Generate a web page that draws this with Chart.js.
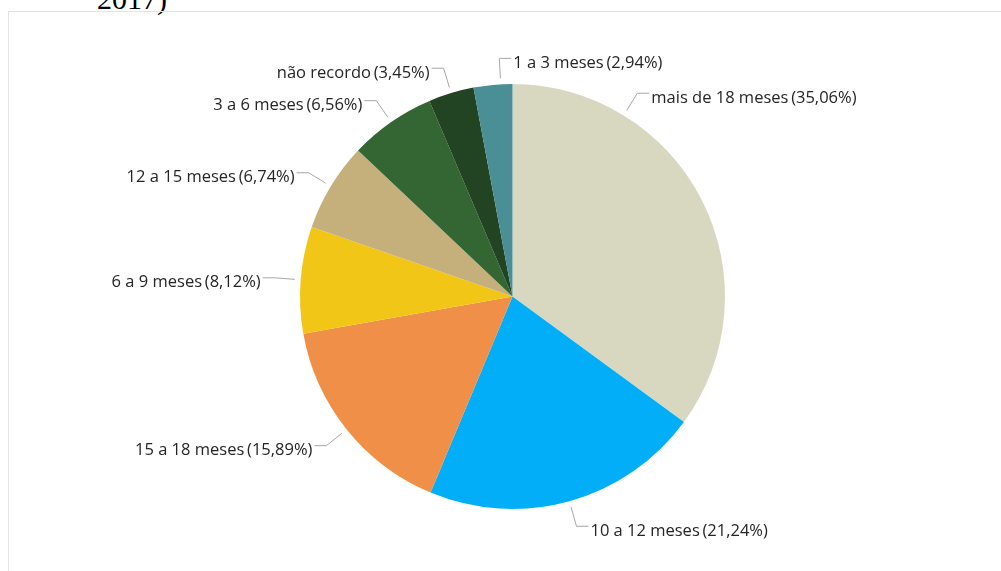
<!DOCTYPE html>
<html>
<head>
<meta charset="utf-8">
<script src="https://cdn.jsdelivr.net/npm/chart.js@4"></script>
<style>
  html, body { margin: 0; padding: 0; background: #fff; overflow: hidden; }
  #wrap { position: relative; width: 1001px; height: 571px; }
  #frame { position: absolute; left: 8px; top: 11px; right: 0; bottom: 0;
           border-top: 1px solid #e4e4e4; border-left: 1px solid #e4e4e4; }
  #caption { position: absolute; left: 97px; top: -16px; font-family: "Liberation Serif", serif;
             font-size: 30px; color: #000; line-height: 30px; }
  canvas { position: absolute; left: 0; top: 0; }
</style>
</head>
<body>
<div id="wrap">
  <div id="caption">2017)</div>
  <div id="frame"></div>
  <canvas id="pie" width="1001" height="571"></canvas>
</div>
<script>
// categories, clockwise from 12 o'clock
const categories = ['mais de 18 meses', '10 a 12 meses', '15 a 18 meses', '6 a 9 meses',
                    '12 a 15 meses', '3 a 6 meses', 'não recordo', '1 a 3 meses'];
const percents = [35.06, 21.24, 15.89, 8.12, 6.74, 6.56, 3.45, 2.94];
const colors = ['#d8d8c1', '#01aef7', '#f08f48', '#f1c617', '#c5af7b', '#336633', '#224423', '#4a8f95'];

// where along the slice the leader line starts, and which side the label goes
const labelFrac = [0.25, 0.5, 0.5, 0.5, 0.5, 0.5, 0.5, 0.7];
const labelSide = ['right', 'right', 'left', 'left', 'left', 'left', 'left', 'right'];

function fmt(v) {
  return v.toFixed(2).replace('.', ',');
}

const leaderLabels = {
  id: 'leaderLabels',
  afterDraw(chart) {
    const ctx = chart.ctx;
    const arcs = chart.getDatasetMeta(0).data;
    ctx.save();
    ctx.font = '16.5px "Open Sans", sans-serif';
    ctx.textBaseline = 'middle';
    arcs.forEach((arc, i) => {
      const a = arc.startAngle + (arc.endAngle - arc.startAngle) * labelFrac[i];
      const r = arc.outerRadius;
      const x0 = arc.x + Math.cos(a) * (r + 6);
      const y0 = arc.y + Math.sin(a) * (r + 6);
      const x1 = arc.x + Math.cos(a) * (r + 26);
      const y1 = arc.y + Math.sin(a) * (r + 26);
      const dir = labelSide[i] === 'right' ? 1 : -1;
      const x2 = x1 + dir * 12;
      ctx.strokeStyle = '#a6a6a6';
      ctx.lineWidth = 1;
      ctx.beginPath();
      ctx.moveTo(x0, y0);
      ctx.lineTo(x1, y1);
      ctx.lineTo(x2, y1);
      ctx.stroke();
      ctx.fillStyle = '#252423';
      ctx.textAlign = dir > 0 ? 'left' : 'right';
      ctx.fillText(categories[i] + '\u2009(' + fmt(percents[i]) + '%)', x2 + dir * 2, y1 + 5);
    });
    ctx.restore();
  }
};

new Chart(document.getElementById('pie'), {
  type: 'pie',
  data: {
    labels: categories,
    datasets: [{
      data: percents,
      backgroundColor: colors,
      borderWidth: 0,
      hoverOffset: 0,
      offset: 0
    }]
  },
  options: {
    responsive: false,
    animation: false,
    devicePixelRatio: 1,
    layout: { padding: { left: 300, right: 276, top: 84, bottom: 62 } },
    plugins: {
      legend: { display: false },
      tooltip: { enabled: false }
    }
  },
  plugins: [leaderLabels]
});
</script>
</body>
</html>
